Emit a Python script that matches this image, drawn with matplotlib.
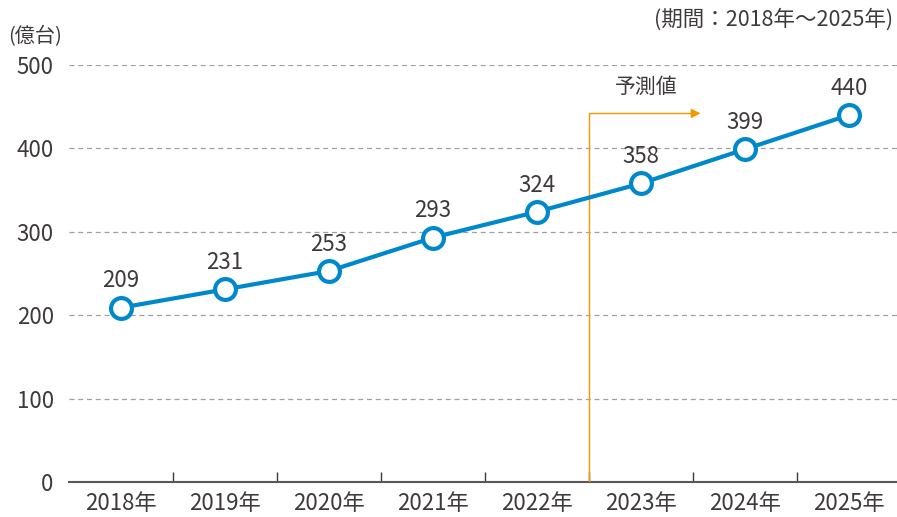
import numpy as np
import matplotlib.pyplot as plt

plt.rcParams['font.family'] = ['Noto Sans CJK JP', 'DejaVu Sans']

years = ['2018年', '2019年', '2020年', '2021年', '2022年', '2023年', '2024年', '2025年']
units = [209, 231, 253, 293, 324, 358, 399, 440]   # 億台

blue = '#0088CC'
orange = '#F39800'
dark = '#3E3A39'

fig = plt.figure(figsize=(8.97, 5.17), dpi=100)
ax = fig.add_axes([69/897, 1 - 482/517, 832/897, 417/517])

x = np.arange(len(years))
ax.plot(x, units, color=blue, lw=3, marker='o', ms=15, mfc='white', mec=blue, mew=3, zorder=5)
for xi, v in zip(x, units):
    ax.annotate(str(v), (xi, v), xytext=(0, 11), textcoords='offset points',
                ha='center', va='bottom', fontsize=16, color=dark)

# forecast marker
ax.plot([4.5, 4.5, 5.5], [0, 442, 442], color=orange, lw=1, zorder=3)
ax.annotate('', xy=(5.6, 442), xytext=(5.45, 442),
            arrowprops=dict(arrowstyle='-|>', color=orange, lw=1, mutation_scale=14))
ax.text(5.05, 460, '予測値', ha='center', va='bottom', fontsize=15, color=dark)

ax.set_xlim(-0.5, 7.5)
ax.set_ylim(0, 500)
ax.set_yticks(range(0, 501, 100))
ax.set_xticks(x)
ax.set_xticklabels(years)
ax.set_xticks(np.arange(0.5, 7, 1), minor=True)
ax.tick_params(axis='x', which='major', length=0, labelsize=16, colors=dark, pad=7)
ax.tick_params(axis='x', which='minor', direction='in', length=7, width=1, color=dark)
ax.tick_params(axis='y', length=0, labelsize=16, colors=dark, pad=11)

for v in range(100, 501, 100):
    ax.axhline(v, color='#9FA0A0', lw=0.9, ls=(0, (4, 3)), zorder=1)

for s in ['top', 'right', 'left']:
    ax.spines[s].set_visible(False)
ax.spines['bottom'].set_color('#595757')
ax.spines['bottom'].set_linewidth(1.5)

fig.text(8/897, 1 - 37/517, '(億台)', ha='left', va='center', fontsize=14.5, color=dark)
fig.text(893/897, 1 - 20/517, '(期間：2018年～2025年)', ha='right', va='center', fontsize=15.5, color=dark)

fig.savefig('out.png', dpi=100)
